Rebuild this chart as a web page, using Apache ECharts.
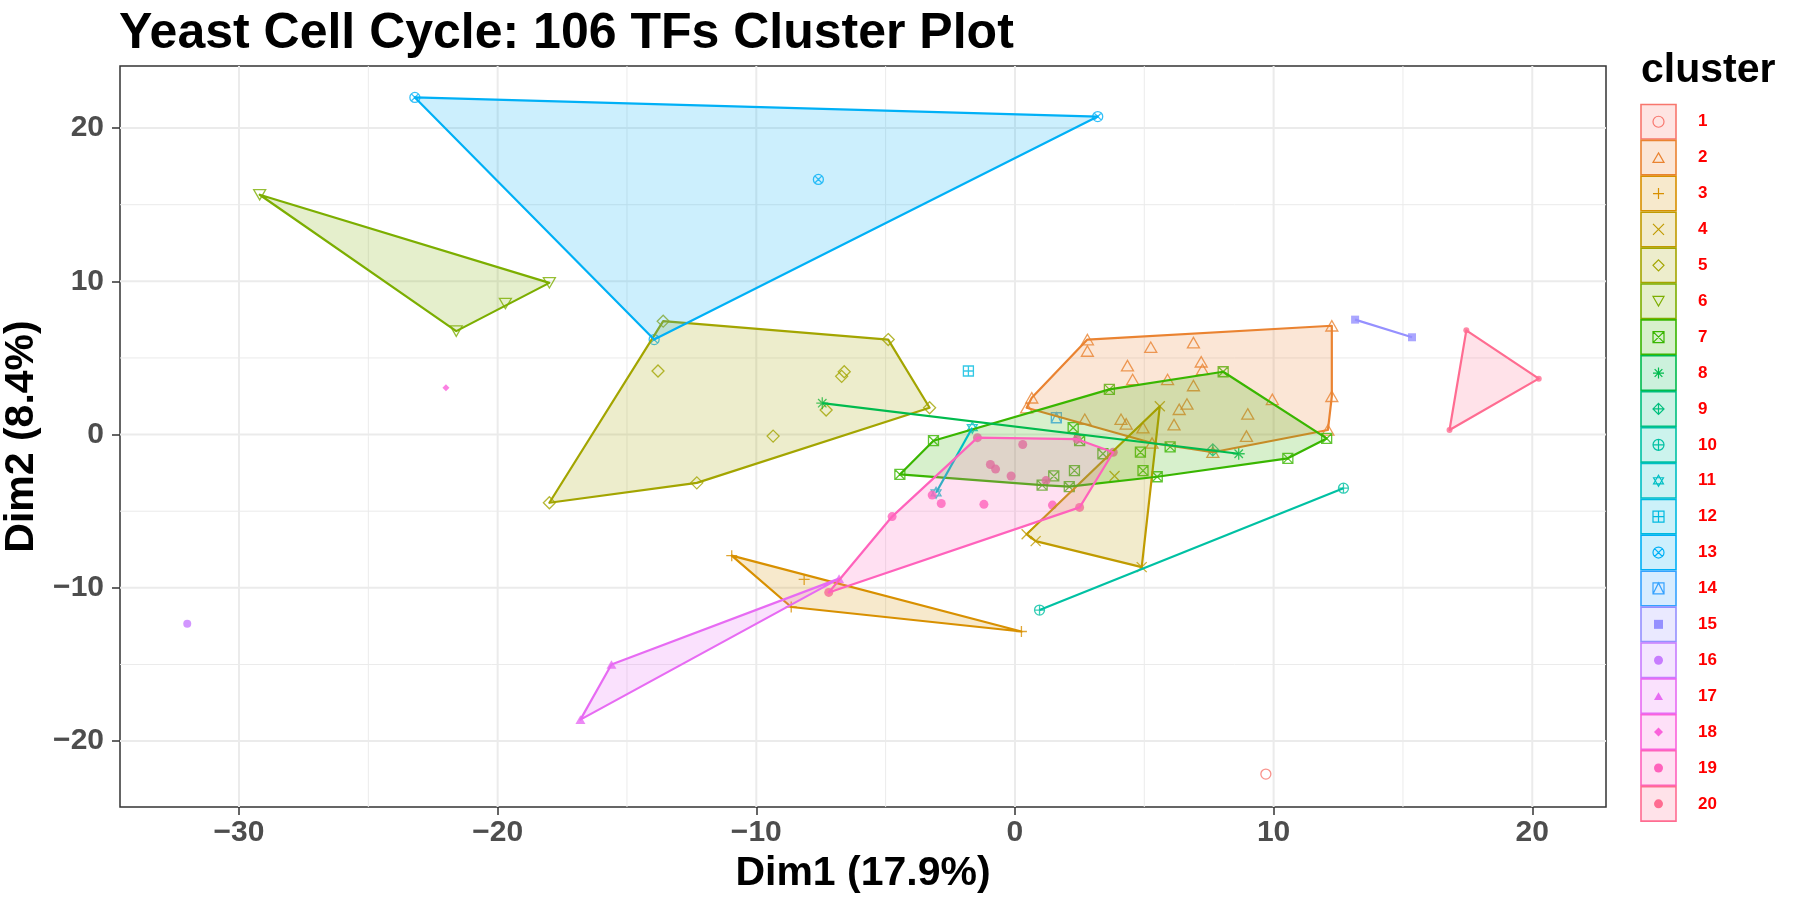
<!DOCTYPE html>
<html>
<head>
<meta charset="utf-8">
<title>Yeast Cell Cycle: 106 TFs Cluster Plot</title>
<script src="https://cdn.jsdelivr.net/npm/echarts@6/dist/echarts.min.js"></script>
<style>
  html, body { margin: 0; padding: 0; background: #fff; }
  #chart { width: 1800px; height: 900px; }
</style>
</head>
<body>
<div id="chart"></div>
<script>
// points of each cluster, [Dim1, Dim2]
var c1 = [[9.7, -22.15]];
var c2 = [[2.8, 6.2], [2.8, 5.45], [5.25, 5.7], [6.9, 6.0], [4.35, 4.5], [7.2, 4.75], [7.25, 4.25],
          [4.55, 3.6], [5.9, 3.6], [6.9, 3.2], [6.65, 2.0], [6.35, 1.65], [4.1, 1.0], [4.3, 0.7],
          [4.95, 0.45], [6.15, 0.65], [9.0, 1.35], [9.95, 2.3], [8.95, -0.1], [12.25, 7.1],
          [12.25, 2.5], [12.1, 0.3], [0.65, 2.4], [0.45, 1.75], [2.7, 1.0], [5.3, -0.55], [7.65, -1.15]];
var c3 = [[-10.95, -7.9], [-8.15, -9.45], [-8.65, -11.25], [0.25, -12.85]];
var c4 = [[5.6, 1.85], [0.45, -6.5], [0.8, -6.95], [4.9, -8.65], [3.85, -2.7]];
var c5 = [[-13.6, 7.4], [-4.9, 6.2], [-13.8, 4.15], [-6.6, 4.1], [-6.7, 3.8], [-3.3, 1.75],
          [-7.3, 1.6], [-9.35, -0.1], [-12.3, -3.15], [-18.0, -4.45]];
var c6 = [[-29.2, 15.65], [-18.0, 9.9], [-19.7, 8.55], [-21.6, 6.75]];
var c7 = [[-3.15, -0.4], [-4.45, -2.6], [2.3, -2.35], [1.5, -2.7], [1.05, -3.3], [2.1, -3.4],
          [2.5, -0.4], [3.65, 2.95], [2.25, 0.45], [3.4, -1.25], [4.85, -1.15], [4.95, -2.35],
          [5.5, -2.75], [6.0, -0.8], [8.05, 4.1], [12.05, -0.25], [10.55, -1.55]];
var c8 = [[-7.45, 2.05], [8.65, -1.25]];
var c9 = [[7.65, -1.0]];
var c10 = [[0.95, -11.45], [12.7, -3.5]];
var c11 = [[-1.65, 0.45], [-3.05, -3.8]];
var c12 = [[-1.8, 4.15]];
var c13 = [[-23.2, 22.0], [3.2, 20.75], [-7.6, 16.65], [-13.95, 6.2]];
var c14 = [[1.6, 1.1]];
var c15 = [[13.15, 7.5], [15.35, 6.35]];
var c16 = [[-32.0, -12.35]];
var c17 = [[-15.6, -15.0], [-6.8, -9.4], [-16.8, -18.6]];
var c18 = [[-22.0, 3.05]];
var c19 = [[-1.45, -0.2], [2.4, -0.3], [3.8, -1.15], [2.5, -4.75], [1.45, -4.6], [0.3, -0.65],
           [-0.95, -1.95], [-0.75, -2.25], [-0.15, -2.7], [1.2, -3.0], [-3.2, -3.95], [-2.85, -4.5],
           [-1.2, -4.55], [-4.75, -5.35], [-7.2, -10.3]];
var c20 = [[17.45, 6.8], [20.25, 3.65], [16.8, 0.3]];

var clusterNames = ['1','2','3','4','5','6','7','8','9','10','11','12','13','14','15','16','17','18','19','20'];
var xMajor = [-30, -20, -10, 0, 10, 20];
var xMinor = [-25, -15, -5, 5, 15];
var yMajor = [-20, -10, 0, 10, 20];
var yMinor = [-15, -5, 5, 15];
var xRange = [-34.6, 22.85];
var yRange = [-24.3, 24.05];

var clusters = [c1, c2, c3, c4, c5, c6, c7, c8, c9, c10, c11, c12, c13, c14, c15, c16, c17, c18, c19, c20];

// ggplot hue palette, 20 levels
var colors = ['#F8766D', '#EA8331', '#D89000', '#C09B00', '#A3A500', '#7CAE00', '#39B600', '#00BB4E',
              '#00BF7D', '#00C1A3', '#00BFC4', '#00BAE0', '#00B0F6', '#35A2FF', '#9590FF', '#C77CFF',
              '#E76BF3', '#FA62DB', '#FF62BC', '#FF6C91'];

// R pch 1..20 drawn as paths in a 20x20 box
var CIRC = 'M1,10A9,9 0 1,1 19,10A9,9 0 1,1 1,10Z';
var BOX = 'M2,2H18V18H2Z';
var shapes = [
  { d: CIRC, fill: false, size: 10 },
  { d: 'M10,1L19.5,17.5L0.5,17.5Z', fill: false, size: 12 },
  { d: 'M10,0V20M0,10H20', fill: false, size: 11 },
  { d: 'M1,1L19,19M19,1L1,19', fill: false, size: 10 },
  { d: 'M10,0L20,10L10,20L0,10Z', fill: false, size: 12 },
  { d: 'M0.5,2.5L19.5,2.5L10,19Z', fill: false, size: 12 },
  { d: BOX + 'M2,2L18,18M18,2L2,18', fill: false, size: 10 },
  { d: 'M10,0V20M0,10H20M3,3L17,17M17,3L3,17', fill: false, size: 12 },
  { d: 'M10,0L20,10L10,20L0,10ZM10,0V20M0,10H20', fill: false, size: 12 },
  { d: CIRC + 'M10,1V19M1,10H19', fill: false, size: 10 },
  { d: 'M10,0L19,15.5L1,15.5ZM10,20L1,4.5L19,4.5Z', fill: false, size: 11 },
  { d: BOX + 'M10,2V18M2,10H18', fill: false, size: 10 },
  { d: CIRC + 'M3.6,3.6L16.4,16.4M16.4,3.6L3.6,16.4', fill: false, size: 10 },
  { d: BOX + 'M2,18L10,2L18,18', fill: false, size: 10 },
  { d: 'M0,0H20V20H0Z', fill: true, size: 8 },
  { d: CIRC, fill: true, size: 8 },
  { d: 'M10,1L19.5,17.5L0.5,17.5Z', fill: true, size: 10 },
  { d: 'M10,0L20,10L10,20L0,10Z', fill: true, size: 7 },
  { d: CIRC, fill: true, size: 9 },
  { d: CIRC, fill: true, size: 6 }
];

var FONT = '"Liberation Sans", Arial, Helvetica, sans-serif';

function alpha(hex, a) {
  var n = parseInt(hex.slice(1), 16);
  return 'rgba(' + (n >> 16) + ',' + ((n >> 8) & 255) + ',' + (n & 255) + ',' + a + ')';
}

// convex hull (monotone chain)
function hull(pts) {
  if (pts.length < 3) return pts.slice();
  var p = pts.slice().sort(function (a, b) { return a[0] - b[0] || a[1] - b[1]; });
  function cross(o, a, b) { return (a[0] - o[0]) * (b[1] - o[1]) - (a[1] - o[1]) * (b[0] - o[0]); }
  var lower = [], upper = [];
  p.forEach(function (q) {
    while (lower.length >= 2 && cross(lower[lower.length - 2], lower[lower.length - 1], q) <= 0) lower.pop();
    lower.push(q);
  });
  for (var i = p.length - 1; i >= 0; i--) {
    var q = p[i];
    while (upper.length >= 2 && cross(upper[upper.length - 2], upper[upper.length - 1], q) <= 0) upper.pop();
    upper.push(q);
  }
  upper.pop(); lower.pop();
  return lower.concat(upper);
}

function gridLines(values, dir, width) {
  return {
    type: 'custom',
    silent: true,
    z: 1,
    data: values.map(function (v) { return dir === 'x' ? [v, 0] : [0, v]; }),
    renderItem: function (params, api) {
      var a, b;
      if (dir === 'x') {
        a = api.coord([api.value(0), yRange[0]]);
        b = api.coord([api.value(0), yRange[1]]);
      } else {
        a = api.coord([xRange[0], api.value(1)]);
        b = api.coord([xRange[1], api.value(1)]);
      }
      return {
        type: 'line',
        shape: { x1: a[0], y1: a[1], x2: b[0], y2: b[1] },
        style: { stroke: '#EBEBEB', lineWidth: width }
      };
    }
  };
}

var series = [
  gridLines(xMinor, 'x', 1),
  gridLines(yMinor, 'y', 1),
  gridLines(xMajor, 'x', 2),
  gridLines(yMajor, 'y', 2)
];

clusters.forEach(function (pts, i) {
  var sh = shapes[i];
  series.push({
    type: 'scatter',
    name: clusterNames[i],
    data: pts,
    z: 2,
    symbol: 'path://' + sh.d,
    symbolKeepAspect: true,
    symbolSize: sh.size,
    itemStyle: sh.fill
      ? { color: colors[i] }
      : { color: 'rgba(0,0,0,0)', borderColor: colors[i], borderWidth: 1.3 }
  });
});

clusters.forEach(function (pts, i) {
  if (pts.length < 2) return;
  var h = hull(pts);
  series.push({
    type: 'custom',
    name: 'hull' + clusterNames[i],
    silent: true,
    z: 3,
    data: h,
    renderItem: function (params, api) {
      if (params.dataIndex !== 0) return { type: 'group', children: [] };
      var points = h.map(function (p) { return api.coord(p); });
      return {
        type: h.length >= 3 ? 'polygon' : 'polyline',
        shape: { points: points },
        style: {
          fill: h.length >= 3 ? alpha(colors[i], 0.2) : null,
          stroke: colors[i],
          lineWidth: 2.2,
          lineJoin: 'round'
        }
      };
    }
  });
});

// legend keys: box + symbol + label, one per cluster
var LEG_X = 1641, LEG_Y = 104.5, LEG_STEP = 35.9;
series.push({
  type: 'custom',
  name: 'legend',
  coordinateSystem: 'none',
  silent: true,
  z: 5,
  data: clusterNames.map(function (n, i) { return i; }),
  renderItem: function (params, api) {
    var i = params.dataIndex;
    var sh = shapes[i];
    var s = sh.fill ? 9 : 11;
    var y0 = LEG_Y + i * LEG_STEP;
    return {
      type: 'group',
      children: [
        {
          type: 'rect',
          shape: { x: LEG_X, y: y0, width: 35, height: 34.5 },
          style: { fill: alpha(colors[i], 0.2), stroke: colors[i], lineWidth: 1.6 }
        },
        {
          type: 'path',
          shape: { pathData: sh.d, x: LEG_X + 17.5 - s / 2, y: y0 + 17.25 - s / 2, width: s, height: s, layout: 'center' },
          style: sh.fill
            ? { fill: colors[i], stroke: null }
            : { fill: null, stroke: colors[i], lineWidth: 1.2 }
        },
        {
          type: 'text',
          style: {
            text: clusterNames[i], x: LEG_X + 57, y: y0 + 17.25, fill: '#FF0000',
            font: 'bold 17px ' + FONT, verticalAlign: 'middle'
          }
        }
      ]
    };
  }
});

function fmt(v) { return v < 0 ? '\u2212' + Math.abs(v) : String(v); }

var chart = echarts.init(document.getElementById('chart'), null, { renderer: 'canvas' });
chart.setOption({
  animation: false,
  backgroundColor: '#ffffff',
  title: [
    {
      text: 'Yeast Cell Cycle: 106 TFs Cluster Plot',
      left: 119, top: 9, padding: 0,
      textStyle: { fontFamily: FONT, fontSize: 50, fontWeight: 'bold', color: '#000' }
    },
    {
      text: 'cluster',
      left: 1641, top: 50, padding: 0,
      textStyle: { fontFamily: FONT, fontSize: 41, fontWeight: 'bold', color: '#000' }
    }
  ],
  grid: {
    left: 120, top: 66, width: 1486, height: 741,
    show: true, backgroundColor: '#fff', borderColor: '#333333', borderWidth: 1.5,
    outerBoundsMode: 'none'
  },
  xAxis: {
    type: 'value', min: xRange[0], max: xRange[1],
    name: 'Dim1 (17.9%)', nameLocation: 'middle', nameGap: 40,
    nameTextStyle: { fontFamily: FONT, fontSize: 41, fontWeight: 'bold', color: '#000' },
    axisLine: { show: false, onZero: false },
    axisTick: { show: true, customValues: xMajor, length: 8, lineStyle: { color: '#333', width: 1.5 } },
    axisLabel: {
      customValues: xMajor, margin: 11, formatter: fmt,
      fontFamily: FONT, fontSize: 30, fontWeight: 'bold', color: '#4D4D4D'
    },
    splitLine: { show: false }
  },
  yAxis: {
    type: 'value', min: yRange[0], max: yRange[1],
    name: 'Dim2 (8.4%)', nameLocation: 'middle', nameGap: 70, nameRotate: 90,
    nameTextStyle: { fontFamily: FONT, fontSize: 41, fontWeight: 'bold', color: '#000' },
    axisLine: { show: false, onZero: false },
    axisTick: { show: true, customValues: yMajor, length: 8, lineStyle: { color: '#333', width: 1.5 } },
    axisLabel: {
      customValues: yMajor, margin: 16, formatter: fmt,
      fontFamily: FONT, fontSize: 30, fontWeight: 'bold', color: '#4D4D4D'
    },
    splitLine: { show: false }
  },
  series: series
});
</script>
</body>
</html>
